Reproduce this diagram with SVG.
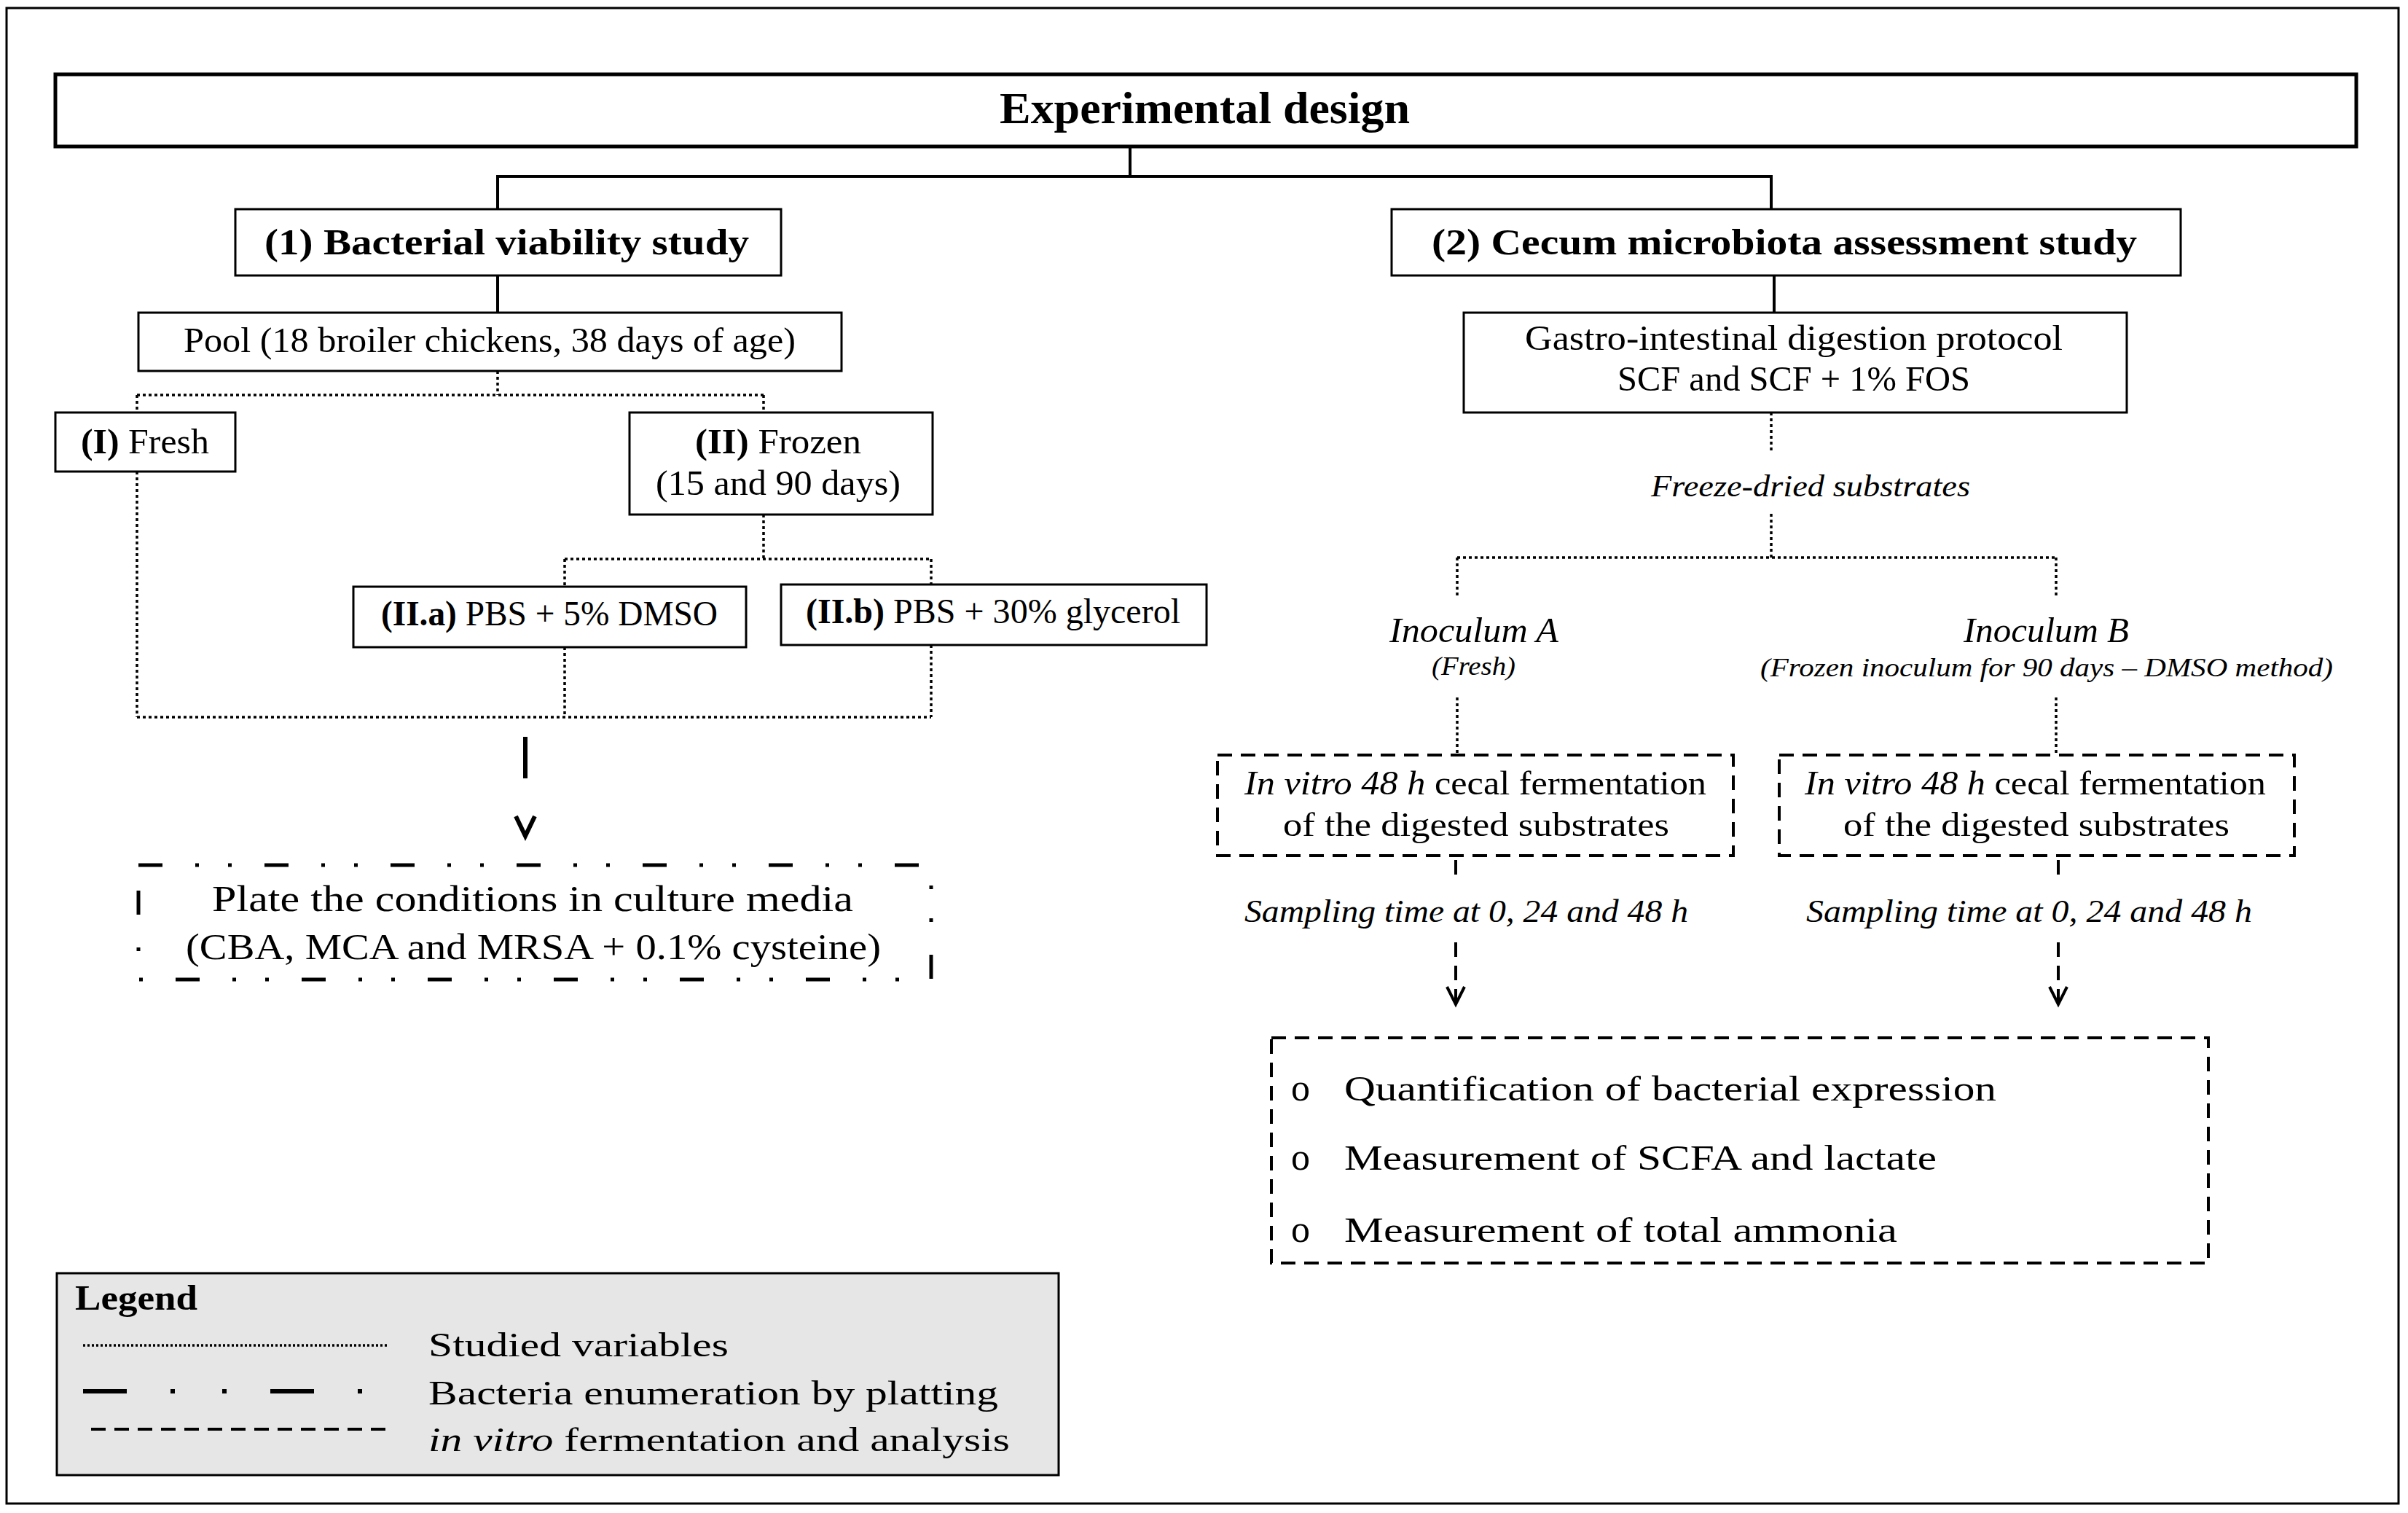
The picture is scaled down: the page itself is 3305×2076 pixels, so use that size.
<svg xmlns="http://www.w3.org/2000/svg" width="3305" height="2076" viewBox="0 0 3305 2076">
<style>
text{font-family:"Liberation Serif","Times New Roman",serif;fill:#000}
.b{font-weight:bold}
.i{font-style:italic}
.box{fill:#fff;stroke:#000;stroke-width:3}
.solid{fill:none;stroke:#000;stroke-width:4}
.dot{fill:none;stroke:#000;stroke-width:3.5;stroke-dasharray:4 4}
.dash{fill:none;stroke:#000;stroke-width:4;stroke-dasharray:20 12}
.dd{fill:none;stroke:#000;stroke-width:5;stroke-dasharray:33 45 5 40 5 45}
</style>
<rect x="0" y="0" width="3305" height="2076" fill="#fff"/>
<rect x="9" y="11" width="3283" height="2052" fill="none" stroke="#000" stroke-width="3"/>

<g id="connectors">
<path class="solid" d="M1551 201V242M683 242H2431M683 240V287M2431 240V287M683 378V429M2435 378V429"/>
<path class="dot" d="M683 509V542M188 542H1048M188 542V566M1048 542V566M188 647V984M188 984H1278M775 888V984M1278 885V984M1048 706V767M775 767H1278M775 767V805M1278 767V802"/>
<path class="dot" d="M2431 566V622M2431 705V765M2000 765H2822M2000 765V820M2822 765V820M2000 957V1036M2822 957V1036"/>
<path class="dash" d="M1998 1180V1209M1998 1293V1377M2825 1180V1209M2825 1293V1377"/>
<polyline points="1986,1354 1998,1378 2010,1354" fill="none" stroke="#000" stroke-width="4"/>
<polyline points="2813,1354 2825,1378 2837,1354" fill="none" stroke="#000" stroke-width="4"/>
<path d="M721 1011V1068" stroke="#000" stroke-width="6" fill="none"/>
<polyline points="708,1120 721,1147 734,1120" fill="none" stroke="#000" stroke-width="6"/>
</g>

<g id="title">
<rect x="76" y="102" width="3158" height="99" fill="#fff" stroke="#000" stroke-width="5"/>
<text class="b" x="1372" y="169" font-size="62" textLength="563" lengthAdjust="spacingAndGlyphs">Experimental design</text>
</g>
<g id="study1">
<rect class="box" x="323" y="287" width="749" height="91"/>
<text class="b" x="363" y="349" font-size="50" textLength="665" lengthAdjust="spacingAndGlyphs">(1) Bacterial viability study</text>
</g>
<g id="study2">
<rect class="box" x="1910" y="287" width="1083" height="91"/>
<text class="b" x="1965" y="349" font-size="50" textLength="968" lengthAdjust="spacingAndGlyphs">(2) Cecum microbiota assessment study</text>
</g>
<g id="pool">
<rect class="box" x="190" y="429" width="965" height="80"/>
<text x="252" y="483" font-size="48" textLength="840" lengthAdjust="spacingAndGlyphs">Pool (18 broiler chickens, 38 days of age)</text>
</g>
<g id="gi">
<rect class="box" x="2009" y="429" width="910" height="137"/>
<text x="2093" y="480" font-size="48" textLength="738" lengthAdjust="spacingAndGlyphs">Gastro-intestinal digestion protocol</text>
<text x="2220" y="536" font-size="48" textLength="484" lengthAdjust="spacingAndGlyphs">SCF and SCF + 1% FOS</text>
</g>
<g id="fresh">
<rect class="box" x="76" y="566" width="247" height="81"/>
<text x="111" y="622" font-size="48" textLength="176" lengthAdjust="spacingAndGlyphs"><tspan class="b">(I)</tspan> Fresh</text>
</g>
<g id="frozen">
<rect class="box" x="864" y="566" width="416" height="140"/>
<text x="954" y="622" font-size="48" textLength="228" lengthAdjust="spacingAndGlyphs"><tspan class="b">(II)</tspan> Frozen</text>
<text x="900" y="679" font-size="48" textLength="336" lengthAdjust="spacingAndGlyphs">(15 and 90 days)</text>
</g>
<g id="iia">
<rect class="box" x="485" y="805" width="539" height="83"/>
<text x="523" y="858" font-size="48" textLength="462" lengthAdjust="spacingAndGlyphs"><tspan class="b">(II.a)</tspan> PBS + 5% DMSO</text>
</g>
<g id="iib">
<rect class="box" x="1072" y="802" width="584" height="83"/>
<text x="1106" y="855" font-size="48" textLength="514" lengthAdjust="spacingAndGlyphs"><tspan class="b">(II.b)</tspan> PBS + 30% glycerol</text>
</g>
<g id="plate">
<rect class="dd" x="190" y="1187" width="1088" height="157"/>
<text x="291" y="1250" font-size="50" textLength="880" lengthAdjust="spacingAndGlyphs">Plate the conditions in culture media</text>
<text x="255" y="1316" font-size="50" textLength="954" lengthAdjust="spacingAndGlyphs">(CBA, MCA and MRSA + 0.1% cysteine)</text>
</g>
<g id="freeze-dried">
<text class="i" x="2266" y="681" font-size="42" textLength="438" lengthAdjust="spacingAndGlyphs">Freeze-dried substrates</text>
</g>
<g id="inoculumA">
<text class="i" x="1907" y="881" font-size="48" textLength="232" lengthAdjust="spacingAndGlyphs">Inoculum A</text>
<text class="i" x="1965" y="926" font-size="36" textLength="115" lengthAdjust="spacingAndGlyphs">(Fresh)</text>
</g>
<g id="inoculumB">
<text class="i" x="2695" y="881" font-size="48" textLength="227" lengthAdjust="spacingAndGlyphs">Inoculum B</text>
<text class="i" x="2416" y="928" font-size="36" textLength="786" lengthAdjust="spacingAndGlyphs">(Frozen inoculum for 90 days – DMSO method)</text>
</g>
<g id="fermA">
<rect class="dash" x="1671" y="1036" width="708" height="138"/>
<text x="1708" y="1090" font-size="46" textLength="634" lengthAdjust="spacingAndGlyphs"><tspan class="i">In vitro 48 h</tspan> cecal fermentation</text>
<text x="1761" y="1147" font-size="46" textLength="530" lengthAdjust="spacingAndGlyphs">of the digested substrates</text>
</g>
<g id="fermB">
<rect class="dash" x="2442" y="1036" width="707" height="138"/>
<text x="2477" y="1090" font-size="46" textLength="633" lengthAdjust="spacingAndGlyphs"><tspan class="i">In vitro 48 h</tspan> cecal fermentation</text>
<text x="2530" y="1147" font-size="46" textLength="530" lengthAdjust="spacingAndGlyphs">of the digested substrates</text>
</g>
<g id="samplingA">
<text class="i" x="1708" y="1265" font-size="45" textLength="609" lengthAdjust="spacingAndGlyphs">Sampling time at 0, 24 and 48 h</text>
</g>
<g id="samplingB">
<text class="i" x="2479" y="1265" font-size="45" textLength="612" lengthAdjust="spacingAndGlyphs">Sampling time at 0, 24 and 48 h</text>
</g>
<g id="analysis">
<rect class="dash" x="1745" y="1424" width="1286" height="309"/>
<text x="1772" y="1510" font-size="52">o</text>
<text x="1772" y="1605" font-size="52">o</text>
<text x="1772" y="1704" font-size="52">o</text>
<text x="1845" y="1510" font-size="48" textLength="895" lengthAdjust="spacingAndGlyphs">Quantification of bacterial expression</text>
<text x="1845" y="1605" font-size="48" textLength="813" lengthAdjust="spacingAndGlyphs">Measurement of SCFA and lactate</text>
<text x="1845" y="1704" font-size="48" textLength="759" lengthAdjust="spacingAndGlyphs">Measurement of total ammonia</text>
</g>
<g id="legend">
<rect x="78" y="1747" width="1375" height="277" fill="#e6e6e6" stroke="#000" stroke-width="3"/>
<text class="b" x="103" y="1797" font-size="48" textLength="168" lengthAdjust="spacingAndGlyphs">Legend</text>
<path d="M114 1846H531" fill="none" stroke="#000" stroke-width="3.5" stroke-dasharray="3 3"/>
<path d="M114 1909H535" fill="none" stroke="#000" stroke-width="6" stroke-dasharray="60 60 6 65 6 60"/>
<path d="M125 1961H535" fill="none" stroke="#000" stroke-width="4" stroke-dasharray="20 12"/>
<text x="588" y="1861" font-size="47" textLength="412" lengthAdjust="spacingAndGlyphs">Studied variables</text>
<text x="588" y="1927" font-size="47" textLength="782" lengthAdjust="spacingAndGlyphs">Bacteria enumeration by platting</text>
<text x="588" y="1991" font-size="47" textLength="798" lengthAdjust="spacingAndGlyphs"><tspan class="i">in vitro</tspan> fermentation and analysis</text>
</g>
</svg>
